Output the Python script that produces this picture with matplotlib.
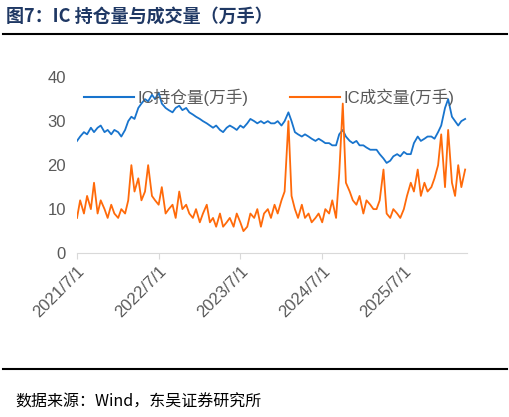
import matplotlib
matplotlib.use("Agg")
import matplotlib.pyplot as plt
import matplotlib.dates as mdates
import pandas as pd
from matplotlib.lines import Line2D

plt.rcParams['font.family'] = ['Liberation Sans', 'Noto Sans CJK SC', 'DejaVu Sans']

start = "2021-07-01"
oi = [25.5, 26.5, 27.5, 27, 28.5, 27.5, 28.5, 29, 27.5, 28, 27, 28,
      27.5, 26.5, 28, 30, 31, 30.5, 33, 34, 35, 34.5, 36, 35,
      36.5, 34, 33, 32.5, 32, 33, 33.5, 32.5, 33, 32, 31.5, 31,
      30.5, 30, 29.5, 29, 28.5, 29, 28, 27.5, 28.5, 29, 28.5, 28,
      29, 28.5, 29.5, 30.5, 30, 29.5, 30, 29.5, 30, 29.5, 29.5, 30,
      29, 30, 32, 30, 27.5, 27, 26.5, 27, 26.5, 26, 25.5, 26,
      25.5, 25, 25, 24.5, 24.5, 27, 28, 26.5, 25.5, 25, 25.5, 24.5,
      24.5, 24, 23.5, 23.5, 23.5, 22.5, 21.5, 20.5, 21, 22, 22.5, 22,
      23, 22.5, 22.5, 25, 26.5, 25.5, 26, 26.5, 26.5, 26, 27.5, 29,
      33, 35, 31, 30, 29, 30, 30.5]
vol = [8, 12, 9, 13, 10, 16, 9, 12, 10, 8, 11, 9,
       8, 10, 9, 12, 20, 14, 17, 12, 14, 20, 13, 12,
       11, 15, 9, 10, 11, 8, 14, 10, 11, 9, 8, 10,
       7, 9, 11, 7, 8, 6, 9, 6, 7, 8, 6, 9,
       7, 5, 6, 9, 8, 10, 6, 9, 10, 8, 11, 9,
       12, 14, 30, 13, 10, 8, 11, 8, 9, 7, 8, 9,
       7, 10, 9, 12, 8, 18, 34, 16, 14, 12, 11, 13,
       9, 12, 11, 10, 10, 12, 19, 9, 8, 10, 9, 8,
       10, 13, 16, 14, 19, 13, 16, 14, 15, 17, 20, 27,
       15, 28, 16, 13, 20, 15, 19]
yticks = [0, 10, 20, 30, 40]
xtick_labels = ["2021/7/1", "2022/7/1", "2023/7/1", "2024/7/1", "2025/7/1"]

dates = pd.date_range(start, periods=len(oi), freq="SMS")

fig = plt.figure(figsize=(5.10, 4.17), dpi=100)
ax = fig.add_axes([0.151, 0.393, 0.765, 0.422])
ax.plot(dates, oi, color="#1874CD", lw=1.3)
ax.plot(dates, vol, color="#FF6A0A", lw=1.3)
ax.set_ylim(0, 40)
ax.set_yticks(yticks)
ax.set_xlim(pd.Timestamp("2021-07-01"), pd.Timestamp("2026-04-10"))
xt = [pd.Timestamp(s.replace("/", "-")) for s in xtick_labels]
ax.set_xticks(xt)
ax.set_xticklabels(xtick_labels, rotation=45, ha="right", rotation_mode="anchor")
for s in ["top", "right", "left"]:
    ax.spines[s].set_visible(False)
ax.spines["bottom"].set_color("#d9d9d9")
ax.tick_params(axis="y", length=0, labelsize=12, colors="#595959", pad=8)
ax.tick_params(axis="x", length=4, color="#d9d9d9", labelsize=12, colors="#595959")
handles = [Line2D([], [], color="#1874CD", lw=1.5), Line2D([], [], color="#FF6A0A", lw=1.5)]
leg = ax.legend(handles, ["IC持仓量(万手)", "IC成交量(万手)"], ncol=2, frameon=False,
                loc="upper left", bbox_to_anchor=(-0.02, 1.02), fontsize=12,
                handlelength=3, columnspacing=2.5, handletextpad=0.2,
                prop={'family': ['Liberation Sans', 'Noto Sans CJK SC'], 'size': 12})
for t in leg.get_texts():
    t.set_color("#595959")

fig.text(0.012, 0.962, "图7：IC 持仓量与成交量（万手）", fontsize=13, fontweight="bold",
         color="#1F3864", family=["Noto Sans CJK SC"], va="center")
fig.add_artist(Line2D([0.005, 0.995], [0.918, 0.918], color="black", lw=1.5))
fig.add_artist(Line2D([0.005, 0.995], [0.115, 0.115], color="black", lw=1.5))
fig.text(0.03, 0.036, "数据来源：Wind，东吴证券研究所", fontsize=11.5, color="black",
         family=["Noto Sans CJK SC"], va="center")
fig.savefig("out.png", dpi=100)
